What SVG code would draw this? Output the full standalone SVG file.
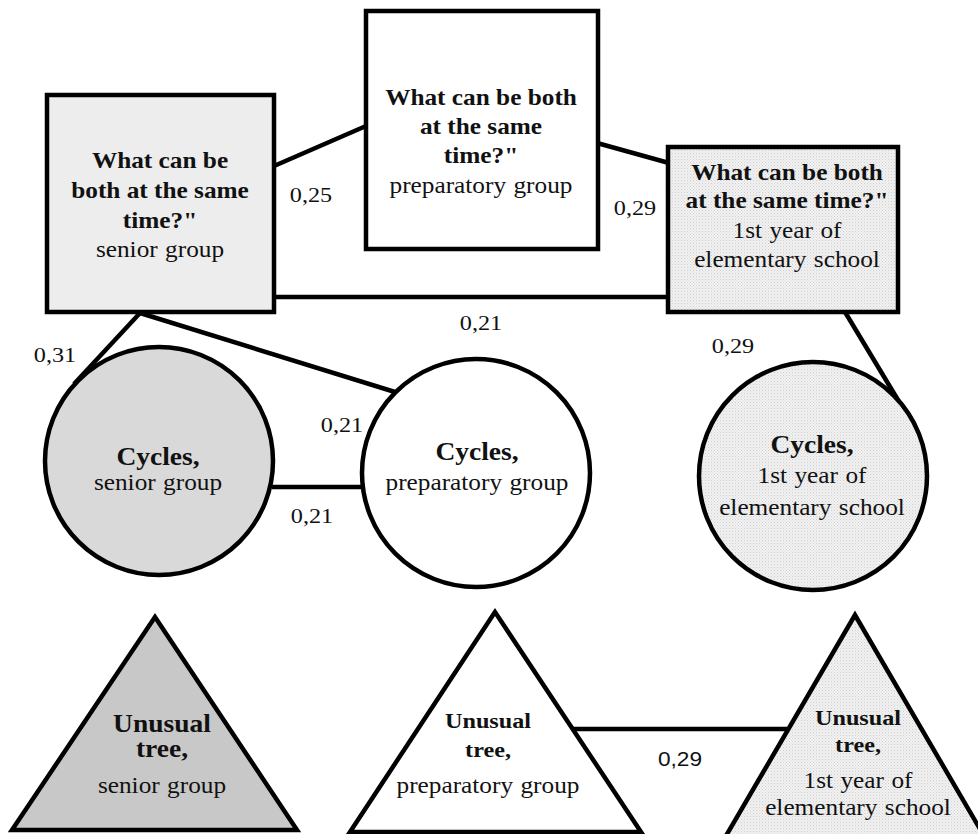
<svg xmlns="http://www.w3.org/2000/svg" width="978" height="834" viewBox="0 0 978 834">
<defs>
<pattern id="dots" width="3" height="3" patternUnits="userSpaceOnUse">
<rect width="3" height="3" fill="#f1f1f1"/>
<rect width="1" height="1" fill="#cfcfcf"/>
<rect x="1.5" y="1.5" width="1" height="1" fill="#dcdcdc"/>
</pattern>
</defs>
<style>
.shape{stroke:#000;stroke-width:4.5;stroke-linejoin:miter}
.edge{stroke:#000;stroke-width:4.5;fill:none}
text{font-family:"Liberation Serif","Times New Roman",serif;fill:#111;text-anchor:middle}
.b{font-weight:bold;font-size:23px}
.bs{font-weight:bold;font-size:22px}
.bl{font-weight:bold;font-size:25px}
.r{font-size:23px;word-spacing:1px}
.lab{font-size:22px}
.sans{font-family:"Liberation Sans",Arial,sans-serif;font-size:21px}
</style>
<rect width="978" height="834" fill="#fff"/>
<g id="connectors">
<line class="edge" x1="274" y1="166" x2="366" y2="126"/>
<line class="edge" x1="597" y1="143" x2="669" y2="163"/>
<line class="edge" x1="274" y1="297" x2="669" y2="297"/>
<line class="edge" x1="140" y1="313" x2="74" y2="384"/>
<line class="edge" x1="140" y1="313" x2="395" y2="392"/>
<line class="edge" x1="272" y1="487" x2="364" y2="487"/>
<line class="edge" x1="845" y1="312" x2="901" y2="405"/>
<line class="edge" x1="573" y1="729" x2="787" y2="729"/>
<text class="lab" transform="translate(311 202) scale(1.1 1)">0,25</text>
<text class="lab" transform="translate(635 215) scale(1.1 1)">0,29</text>
<text class="lab" transform="translate(481 330) scale(1.1 1)">0,21</text>
<text class="lab" transform="translate(55 362) scale(1.1 1)">0,31</text>
<text class="lab" transform="translate(342 432) scale(1.1 1)">0,21</text>
<text class="lab" transform="translate(312 523) scale(1.1 1)">0,21</text>
<text class="lab" transform="translate(733 353) scale(1.1 1)">0,29</text>
<text class="sans" transform="translate(680 766) scale(1.08 1)">0,29</text>
</g>
<g id="box-senior">
<rect class="shape" x="47" y="95" width="227" height="217" fill="#ededed"/>
<text class="b" transform="translate(160 168) scale(1.1 1)">What can be</text>
<text class="b" transform="translate(160 198) scale(1.1 1)">both at the same</text>
<text class="b" transform="translate(160 228) scale(1.1 1)">time?"</text>
<text class="r" transform="translate(160 257) scale(1.1 1)">senior group</text>
</g>
<g id="box-preparatory">
<rect class="shape" x="366" y="11" width="232" height="238" fill="#fff"/>
<text class="b" transform="translate(481 105) scale(1.1 1)">What can be both</text>
<text class="b" transform="translate(481 134) scale(1.1 1)">at the same</text>
<text class="b" transform="translate(481 163) scale(1.1 1)">time?"</text>
<text class="r" transform="translate(481 193) scale(1.1 1)">preparatory group</text>
</g>
<g id="box-first-year">
<rect class="shape" x="668" y="147" width="230" height="165" fill="url(#dots)"/>
<text class="b" transform="translate(787 180) scale(1.1 1)">What can be both</text>
<text class="b" transform="translate(787 208) scale(1.1 1)">at the same time?"</text>
<text class="r" transform="translate(787 238) scale(1.1 1)">1st year of</text>
<text class="r" transform="translate(787 267) scale(1.1 1)">elementary school</text>
</g>
<g id="cycles-senior">
<circle class="shape" cx="159" cy="461" r="114" fill="#d9d9d9"/>
<text class="bl" transform="translate(158 465) scale(1.1 1)">Cycles,</text>
<text class="r" transform="translate(158 490) scale(1.1 1)">senior group</text>
</g>
<g id="cycles-preparatory">
<circle class="shape" cx="476" cy="473" r="114" fill="#fff"/>
<text class="bl" transform="translate(477 460) scale(1.1 1)">Cycles,</text>
<text class="r" transform="translate(477 490) scale(1.1 1)">preparatory group</text>
</g>
<g id="cycles-first-year">
<circle class="shape" cx="813" cy="476" r="114" fill="url(#dots)"/>
<text class="bl" transform="translate(812 453) scale(1.1 1)">Cycles,</text>
<text class="r" transform="translate(812 483) scale(1.1 1)">1st year of</text>
<text class="r" transform="translate(812 515) scale(1.1 1)">elementary school</text>
</g>
<g id="tree-senior">
<polygon class="shape" points="155,617 12,830 297,830" fill="#c8c8c8"/>
<text class="bl" transform="translate(162 732) scale(1.1 1)">Unusual</text>
<text class="bl" transform="translate(162 757) scale(1.1 1)">tree,</text>
<text class="r" transform="translate(162 793) scale(1.1 1)">senior group</text>
</g>
<g id="tree-preparatory">
<polygon class="shape" points="495,612 350,832 641,832" fill="#fff"/>
<text class="bs" transform="translate(488 728) scale(1.1 1)">Unusual</text>
<text class="bs" transform="translate(488 757) scale(1.1 1)">tree,</text>
<text class="r" transform="translate(488 793) scale(1.1 1)">preparatory group</text>
</g>
<g id="tree-first-year">
<polygon class="shape" points="855,615 723,841 987,841" fill="url(#dots)"/>
<text class="bs" transform="translate(858 725) scale(1.1 1)">Unusual</text>
<text class="bs" transform="translate(858 752) scale(1.1 1)">tree,</text>
<text class="r" transform="translate(858 788) scale(1.1 1)">1st year of</text>
<text class="r" transform="translate(858 815) scale(1.1 1)">elementary school</text>
</g>
</svg>
